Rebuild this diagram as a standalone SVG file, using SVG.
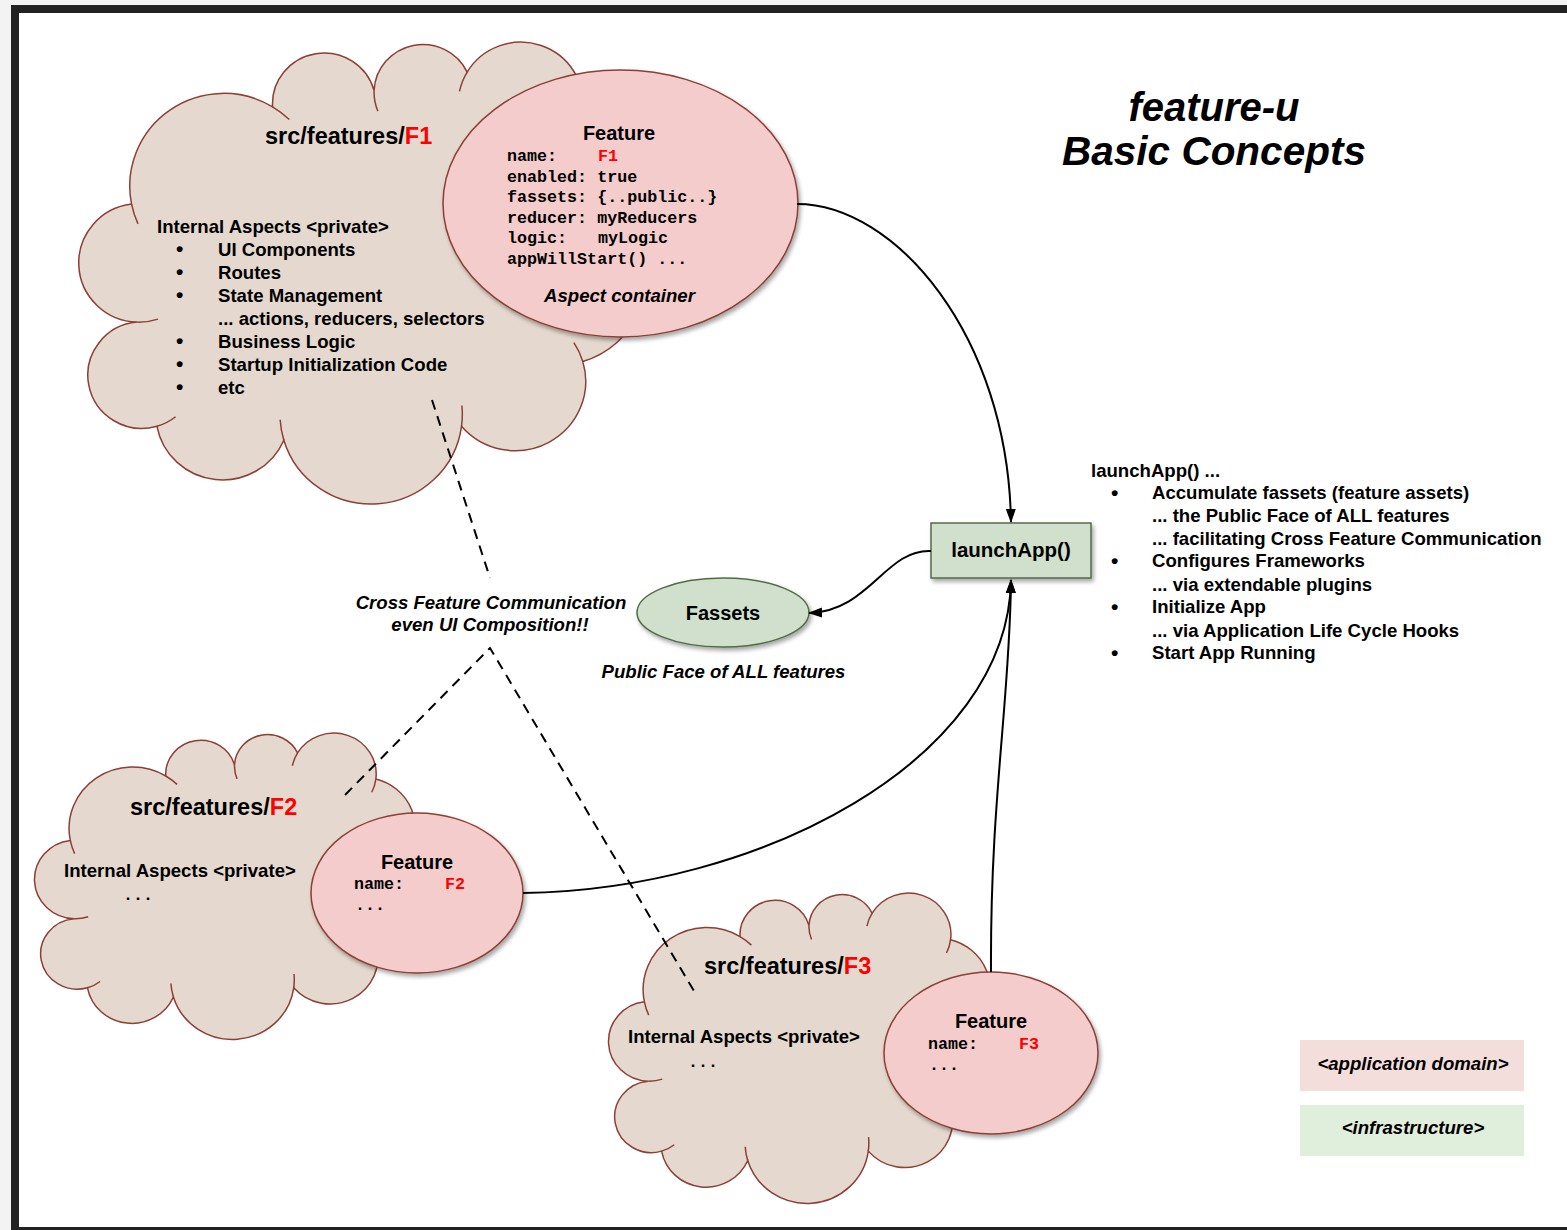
<svg xmlns="http://www.w3.org/2000/svg" width="1567" height="1230" viewBox="0 0 1567 1230">
<style>
 .cl{fill:#e5d9cf;stroke:#8b3f35;stroke-width:1.5}
 .tk{fill:none;stroke:#8b3f35;stroke-width:1.5}
 .fe{fill:#f4cccc;stroke:#8b3f35;stroke-width:1.5}
 .gr{fill:#d0e0cc;stroke:#4f6d43;stroke-width:1.5}
 text{font-family:"Liberation Sans",Arial,sans-serif;font-weight:bold;fill:#000}
 .b{font-size:18.6px}
 .h{font-size:23.5px}
 .m{font-family:"Liberation Mono","Courier New",monospace;font-size:16.7px}
 .i{font-style:italic}
 .c{text-anchor:middle}
 .r{fill:#f00}
 .bu{font-size:21px}
 .ln{fill:none;stroke:#000;stroke-width:2}
 .da{fill:none;stroke:#000;stroke-width:2;stroke-dasharray:10 7}
</style>
<defs>
 <filter id="sh" x="-10%" y="-10%" width="125%" height="130%">
  <feDropShadow dx="2" dy="3" stdDeviation="2" flood-color="#000" flood-opacity="0.35"/>
 </filter>
 <marker id="arr" markerUnits="userSpaceOnUse" markerWidth="14" markerHeight="12" viewBox="0 0 14 12" refX="13" refY="6" orient="auto">
  <path d="M0,1 L14,6 L0,11 z" fill="#000"/>
 </marker>
 <g id="cloud">
  <path class="cl" vector-effect="non-scaling-stroke" d="M11.4 35A20 20 0 0 1 41.4 14A11 11 0 0 1 63 10.5A10.4 10.4 0 0 1 82.8 6.5A13.3 13.3 0 0 1 107.4 15A16.4 16.4 0 0 1 117 40A18.6 18.6 0 0 1 107.4 69A15 15 0 0 1 81.6 83A19.4 19.4 0 0 1 43.8 86A14.2 14.2 0 0 1 16.8 83A11.5 11.5 0 1 1 12.6 60.5A12.8 12.8 0 0 1 11.4 35Z"/>
  <path class="tk" vector-effect="non-scaling-stroke" d="M41.4 14A20 20 0 0 1 44.96 16.75M12.76 39.28A20 20 0 0 1 11.4 35M63.8 14.93A10.4 10.4 0 0 1 63 10.5M81.17 10.67A13.3 13.3 0 0 1 82.8 6.5M107.4 15A13.3 13.3 0 0 1 106.11 19.29M117 40A16.4 16.4 0 0 1 114.02 43.35M105.5 64.94A15 15 0 0 1 107.4 69M81.68 78.51A19.4 19.4 0 0 1 81.6 83M43.8 86A19.4 19.4 0 0 1 43.01 81.58M20.77 80.94A11.5 11.5 0 0 1 16.8 83M17.02 59.85A12.8 12.8 0 0 1 12.6 60.5"/>
 </g>
</defs>

<rect x="0" y="0" width="1567" height="1230" fill="#f3f3f3"/>
<rect x="11" y="5" width="1556" height="1225" fill="#222"/>
<rect x="19" y="13" width="1548" height="1214" fill="#fff"/>

<g id="title">
 <text class="i c" x="1214" y="121" font-size="40">feature-u</text>
 <text class="i c" x="1214" y="164.5" font-size="40.5">Basic Concepts</text>
</g>

<g id="f1">
 <use href="#cloud" transform="translate(78,42) scale(4.7,4.63)"/>
 <text class="h" x="265" y="144">src/features/<tspan class="r">F1</tspan></text>
 <text class="b" x="157" y="233">Internal Aspects &lt;private&gt;</text>
 <text class="bu" x="176" y="256">•</text>
 <text class="bu" x="176" y="279">•</text>
 <text class="bu" x="176" y="302">•</text>
 <text class="bu" x="176" y="348">•</text>
 <text class="bu" x="176" y="371">•</text>
 <text class="bu" x="176" y="394">•</text>
 <text class="b" x="218" y="255.5">UI Components</text>
 <text class="b" x="218" y="278.5">Routes</text>
 <text class="b" x="218" y="301.5">State Management</text>
 <text class="b" x="218" y="324.5">... actions, reducers, selectors</text>
 <text class="b" x="218" y="347.5">Business Logic</text>
 <text class="b" x="218" y="370.5">Startup Initialization Code</text>
 <text class="b" x="218" y="393.5">etc</text>
 <ellipse class="fe" filter="url(#sh)" cx="620.5" cy="203.5" rx="177.5" ry="133.5"/>
 <text class="c" x="619" y="140" font-size="20">Feature</text>
 <text class="m" x="507" y="161">name:</text>
 <text class="m r" x="598" y="161">F1</text>
 <text class="m" x="507" y="181.5">enabled: true</text>
 <text class="m" x="507" y="202">fassets: {..public..}</text>
 <text class="m" x="507" y="222.5">reducer: myReducers</text>
 <text class="m" x="507" y="243">logic:</text>
 <text class="m" x="598" y="243">myLogic</text>
 <text class="m" x="507" y="263.5">appWillStart() ...</text>
 <text class="b i c" x="619.5" y="301.5">Aspect container</text>
</g>

<g id="f2">
 <use href="#cloud" transform="translate(34,733) scale(3.183,3.07)"/>
 <text class="h" x="130" y="815">src/features/<tspan class="r">F2</tspan></text>
 <text class="b" x="64" y="877">Internal Aspects &lt;private&gt;</text>
 <text class="m" x="123" y="899.5">...</text>
 <ellipse class="fe" filter="url(#sh)" cx="417" cy="893" rx="106" ry="80"/>
 <text class="c" x="417" y="868.5" font-size="20">Feature</text>
 <text class="m" x="354" y="889">name:</text>
 <text class="m r" x="445" y="889">F2</text>
 <text class="m" x="355" y="909.5">...</text>
</g>

<g id="f3">
 <use href="#cloud" transform="translate(608,893) scale(3.19,3.11)"/>
 <text class="h" x="704" y="974">src/features/<tspan class="r">F3</tspan></text>
 <text class="b" x="628" y="1043">Internal Aspects &lt;private&gt;</text>
 <text class="m" x="688" y="1066.5">...</text>
 <ellipse class="fe" filter="url(#sh)" cx="991" cy="1053" rx="107" ry="81"/>
 <text class="c" x="991" y="1027.5" font-size="20">Feature</text>
 <text class="m" x="928" y="1048.5">name:</text>
 <text class="m r" x="1019" y="1048.5">F3</text>
 <text class="m" x="929" y="1069.5">...</text>
</g>

<g id="launchApp">
 <rect class="gr" filter="url(#sh)" x="931" y="523" width="160" height="55"/>
 <text class="c" x="1011" y="557" font-size="20.5">launchApp()</text>
</g>

<g id="fassets">
 <ellipse class="gr" filter="url(#sh)" cx="723" cy="612.5" rx="86" ry="34.5"/>
 <text class="c" x="723" y="619.5" font-size="20">Fassets</text>
 <text class="b i c" x="723.5" y="678">Public Face of ALL features</text>
</g>

<g id="crossNote">
 <text class="b i c" x="491" y="609">Cross Feature Communication</text>
 <text class="b i c" x="490" y="630.5">even UI Composition!!</text>
</g>

<g id="launchNotes">
 <text class="b" x="1091" y="476.5">launchApp() ...</text>
 <text class="bu" x="1111" y="500">•</text>
 <text class="bu" x="1111" y="568">•</text>
 <text class="bu" x="1111" y="614">•</text>
 <text class="bu" x="1111" y="660">•</text>
 <text class="b" x="1152" y="499">Accumulate fassets (feature assets)</text>
 <text class="b" x="1152" y="521.5">... the Public Face of ALL features</text>
 <text class="b" x="1152" y="544.5">... facilitating Cross Feature Communication</text>
 <text class="b" x="1152" y="567">Configures Frameworks</text>
 <text class="b" x="1152" y="590.5">... via extendable plugins</text>
 <text class="b" x="1152" y="613">Initialize App</text>
 <text class="b" x="1152" y="636.5">... via Application Life Cycle Hooks</text>
 <text class="b" x="1152" y="659">Start App Running</text>
</g>

<g id="legend">
 <rect x="1300" y="1040" width="224" height="51" fill="#f4dedc"/>
 <text class="b i c" x="1413" y="1069.5">&lt;application domain&gt;</text>
 <rect x="1300" y="1105" width="224" height="51" fill="#e0eedc"/>
 <text class="b i c" x="1413" y="1133.5">&lt;infrastructure&gt;</text>
</g>

<g id="connectors">
 <path class="ln" marker-end="url(#arr)" d="M797 204 C895 204 1008 335 1011 522"/>
 <path class="ln" marker-end="url(#arr)" d="M931 551 C885 549 870 611 809 613"/>
 <path class="ln" marker-end="url(#arr)" d="M523 893 C760 890 1008 760 1011 580"/>
 <path class="ln" marker-end="url(#arr)" d="M991 972 C990 800 1010 700 1011 580"/>
 <path class="da" d="M432 400 L490 578"/>
 <path class="da" d="M345 795 L490 648 L697 996"/>
</g>
</svg>
